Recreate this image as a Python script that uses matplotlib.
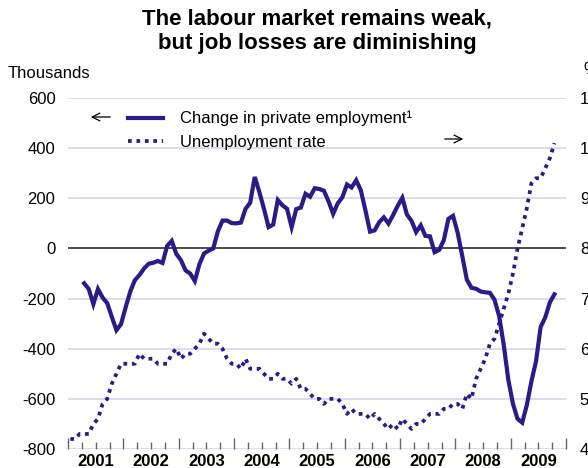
import matplotlib
matplotlib.use("Agg")
import matplotlib.pyplot as plt
import numpy as np
from matplotlib.lines import Line2D

plt.rcParams['font.family'] = ['Liberation Sans', 'DejaVu Sans']

# change in private employment, thousands, monthly Apr 2001 - Oct 2009
employment = [
    -139, -162, -222, -162, -196, -218, -273, -326, -302,
    -235, -172, -127, -106, -80, -61, -57, -50, -58, 10, 30, -22,
    -47, -88, -100, -130, -63, -20, -9, 0, 68, 111, 111, 101,
    100, 103, 158, 182, 285, 225, 158, 85, 95, 193, 172, 158,
    85, 157, 163, 218, 206, 240, 237, 230, 188, 138, 180, 204,
    255, 243, 272, 232, 152, 67, 72, 105, 124, 99, 133, 170,
    202, 135, 110, 65, 92, 50, 48, -15, -6, 33, 118, 130,
    63, -30, -125, -157, -161, -172, -175, -177, -205, -270, -385, -525,
    -620, -680, -695, -625, -530, -450, -313, -275, -215, -183,
]
emp_start = 2001 + 3 / 12  # April 2001

# unemployment rate, %, monthly Jan 2001 - Oct 2009
unemployment = [
    4.2, 4.2, 4.3, 4.3, 4.3, 4.5, 4.6, 4.9, 5.0, 5.3, 5.5, 5.7,
    5.7, 5.7, 5.7, 5.9, 5.8, 5.8, 5.8, 5.7, 5.7, 5.7, 5.9, 6.0,
    5.8, 5.9, 5.9, 6.0, 6.1, 6.3, 6.2, 6.1, 6.1, 6.0, 5.8, 5.7,
    5.7, 5.6, 5.8, 5.6, 5.6, 5.6, 5.5, 5.4, 5.4, 5.5, 5.4, 5.4,
    5.3, 5.4, 5.2, 5.2, 5.1, 5.0, 5.0, 4.9, 5.0, 5.0, 5.0, 4.9,
    4.7, 4.8, 4.7, 4.7, 4.7, 4.6, 4.7, 4.6, 4.5, 4.4, 4.5, 4.4,
    4.6, 4.5, 4.4, 4.5, 4.5, 4.6, 4.7, 4.7, 4.7, 4.8, 4.8, 4.9,
    4.9, 4.8, 5.1, 5.0, 5.4, 5.6, 5.8, 6.1, 6.2, 6.5, 6.8, 7.1,
    7.5, 8.0, 8.4, 8.8, 9.3, 9.4, 9.4, 9.6, 9.8, 10.1,
]
unemp_start = 2001.0

years = list(range(2001, 2010))
left_ticks = [600, 400, 200, 0, -200, -400, -600, -800]
right_ticks = [4, 5, 6, 7, 8, 9, 10, 11]

navy = '#2c1a88'
grid_col = '#dcdcf0'

x_emp = emp_start + (np.arange(len(employment)) + 0.5) / 12
x_un = unemp_start + (np.arange(len(unemployment)) + 0.5) / 12

fig = plt.figure(figsize=(5.88, 4.68), dpi=100)
ax = fig.add_axes([68 / 588, 19 / 468, 498 / 588, 351 / 468])
ax2 = ax.twinx()
ax2.set_position(ax.get_position())

ax.set_xlim(2001, 2010)
ax.set_ylim(-800, 600)
ax2.set_ylim(4, 11)

for v in left_ticks:
    ax.axhline(v, color=grid_col, lw=1.4, zorder=0)
ax.axhline(0, color='#333333', lw=1.2, zorder=1)

ax.plot(x_emp, employment, color=navy, lw=3.0, solid_joinstyle='miter', zorder=3)
ax2.plot(x_un, unemployment, color=navy, lw=2.7, dashes=(1, 1.25), zorder=3)

for a in (ax, ax2):
    for s in a.spines.values():
        s.set_visible(False)

ax.set_yticks(left_ticks)
ax.set_yticklabels([str(v) for v in left_ticks])
ax.tick_params(axis='y', length=0, labelsize=12, pad=9)
ax2.set_yticks(right_ticks)
ax2.tick_params(axis='y', length=0, labelsize=12, pad=10)

# quarterly tick marks, year labels centred between years
ax.set_xticks(np.arange(2001, 2010.01, 1.0))
ax.set_xticks(np.arange(2001, 2010.01, 0.25), minor=True)
ax.set_xticklabels([])
ax.tick_params(axis='x', which='major', direction='in', length=8, width=1, color='#666666')
ax.tick_params(axis='x', which='minor', direction='in', length=5, width=1, color='#666666')
for y in years:
    ax.text(y + 0.5, -0.036, str(y), transform=ax.get_xaxis_transform(),
            ha='center', va='center', fontsize=12, fontweight='bold')

fig.text(317 / 588, 1 - 8 / 468,
         "The labour market remains weak,\nbut job losses are diminishing",
         ha='center', va='top', fontsize=16, fontweight='bold', linespacing=1.25)
fig.text(8 / 588, 1 - 74 / 468, "Thousands", ha='left', va='center', fontsize=12)
fig.text(583 / 588, 1 - 70 / 468, "%", ha='left', va='center', fontsize=12)

handles = [Line2D([], [], color=navy, lw=3.0),
           Line2D([], [], color=navy, lw=2.7, dashes=(1, 1.25))]
ax.legend(handles, ["Change in private employment\u00b9", "Unemployment rate"],
          loc='upper left', bbox_to_anchor=(128 / 588, 1 - 111 / 468),
          bbox_transform=fig.transFigure, frameon=False, fontsize=12,
          handlelength=2.1, handletextpad=1.0, labelspacing=0.5,
          borderpad=0, borderaxespad=0)

ax.annotate('', xy=(88 / 588, 1 - 117 / 468), xytext=(113 / 588, 1 - 117 / 468),
            xycoords='figure fraction', textcoords='figure fraction',
            arrowprops=dict(arrowstyle='->', lw=0.9, color='black', mutation_scale=14))
ax.annotate('', xy=(466 / 588, 1 - 139 / 468), xytext=(442 / 588, 1 - 139 / 468),
            xycoords='figure fraction', textcoords='figure fraction',
            arrowprops=dict(arrowstyle='->', lw=0.9, color='black', mutation_scale=14))

fig.savefig('out.png', dpi=100)
